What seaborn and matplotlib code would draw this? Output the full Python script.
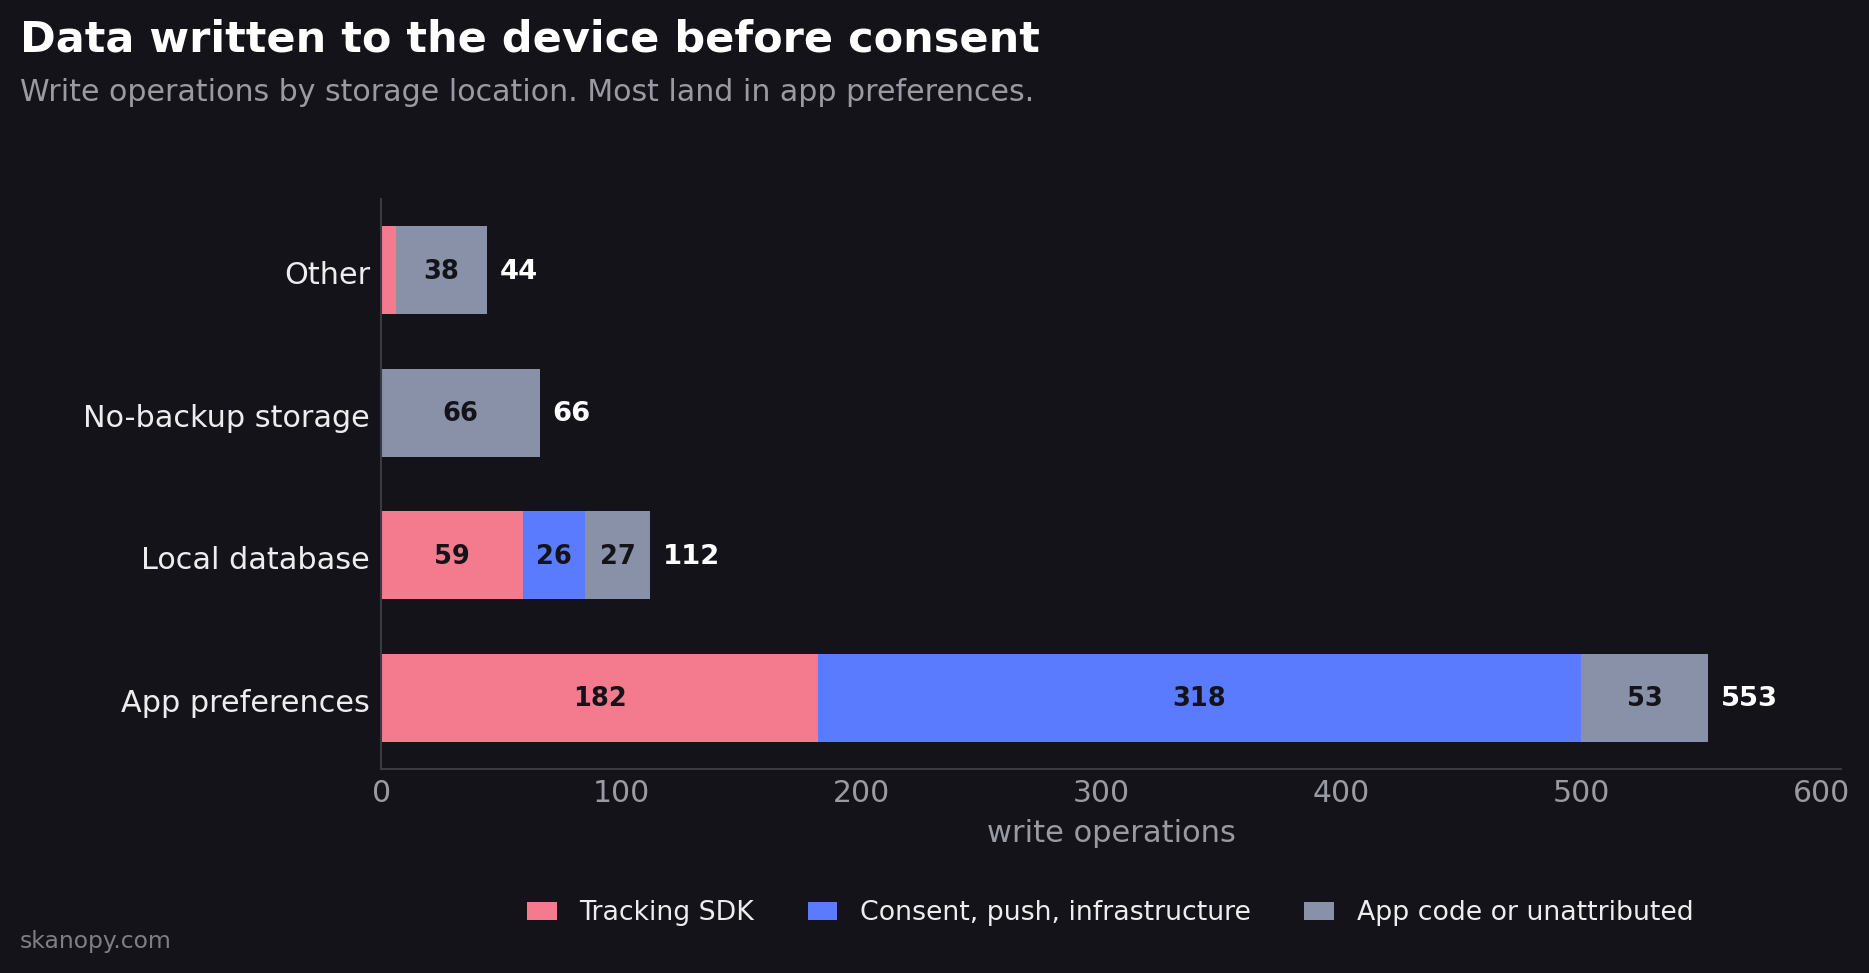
import matplotlib
matplotlib.use("Agg")
import matplotlib.pyplot as plt
import matplotlib.transforms as mtransforms
import seaborn as sns
import numpy as np
import pandas as pd
from matplotlib.patches import Patch

categories = ["Other", "No-backup storage", "Local database", "App preferences"]
tracking_sdk = [6, 0, 59, 182]
consent_push = [0, 0, 26, 318]
app_code = [38, 66, 27, 53]
series_names = ["Tracking SDK", "Consent, push, infrastructure", "App code or unattributed"]
x_ticks = [0, 100, 200, 300, 400, 500, 600]

BG = "#14131A"
COLORS = ["#F47B8E", "#5B7BFE", "#8891A7"]
TEXT = "#EDEDF0"
MUTED = "#9A9AA3"
SPINE = "#3A3A43"

sns.set_theme(style="dark")
plt.rcParams["font.family"] = ["DejaVu Sans"]

fig = plt.figure(figsize=(18.69, 9.73), dpi=100, facecolor=BG)
ax = fig.add_axes([0.204, 0.2097, 0.781, 0.5858])
ax.set_facecolor(BG)

series = [tracking_sdk, consent_push, app_code]
cum = np.cumsum(np.array(series, dtype=float), axis=0)
totals = cum[-1]

# draw cumulative layers from outermost to innermost
for i in range(len(series) - 1, -1, -1):
    df = pd.DataFrame({"cat": categories, "val": cum[i]})
    sns.barplot(data=df, x="val", y="cat", order=categories, color=COLORS[i],
                saturation=1, width=0.62, errorbar=None, orient="h", ax=ax,
                linewidth=0)

# segment labels
for i, vals in enumerate(series):
    for j, v in enumerate(vals):
        if v >= 15:
            ax.text(cum[i][j] - v / 2, j + 0.01, f"{v}", ha="center", va="center",
                    color=BG, fontsize=18.5, fontweight="bold")

# totals
for j, t in enumerate(totals):
    ax.annotate(f"{int(t)}", xy=(t, j + 0.01), xytext=(9, 0), textcoords="offset points",
                ha="left", va="center", color="white", fontsize=19.7, fontweight="bold")

ax.set_xlim(0, 553 * 1.1)
ax.set_ylim(3.5, -0.5)
ax.set_xticks(x_ticks)
ax.set_xticklabels([str(t) for t in x_ticks])
ax.set_xlabel("write operations", color=MUTED, fontsize=22, labelpad=8)
ax.set_ylabel("")
ax.grid(False)
ax.tick_params(axis="x", length=0, pad=7, labelsize=21.5, labelcolor=MUTED)
ax.tick_params(axis="y", length=0, pad=8, labelsize=21.8, labelcolor=TEXT)
offset = mtransforms.ScaledTranslation(0, -0.024, fig.dpi_scale_trans)
for lab in ax.get_yticklabels():
    lab.set_transform(lab.get_transform() + offset)
for side in ["top", "right"]:
    ax.spines[side].set_visible(False)
for side in ["left", "bottom"]:
    ax.spines[side].set_visible(True)
    ax.spines[side].set_color(SPINE)
    ax.spines[side].set_linewidth(1.5)

fig.text(0.0107, 0.947, "Data written to the device before consent", color="white",
         fontsize=31, fontweight="bold", ha="left", va="baseline")
fig.text(0.0107, 0.896, "Write operations by storage location. Most land in app preferences.",
         color=MUTED, fontsize=21.6, ha="left", va="baseline")
fig.text(0.0107, 0.0257, "skanopy.com", color="#7E7E86", fontsize=16.9, ha="left", va="baseline")

handles = [Patch(facecolor=c, edgecolor="none", label=n) for c, n in zip(COLORS, series_names)]
leg = fig.legend(handles=handles, loc="center", bbox_to_anchor=(0.594, 0.0612), ncol=3,
                 frameon=False, fontsize=19.3, handlelength=1.1, handleheight=0.7,
                 handletextpad=0.85, columnspacing=2.0)
for t in leg.get_texts():
    t.set_color(TEXT)

fig.savefig("out.png", dpi=100, facecolor=BG)
